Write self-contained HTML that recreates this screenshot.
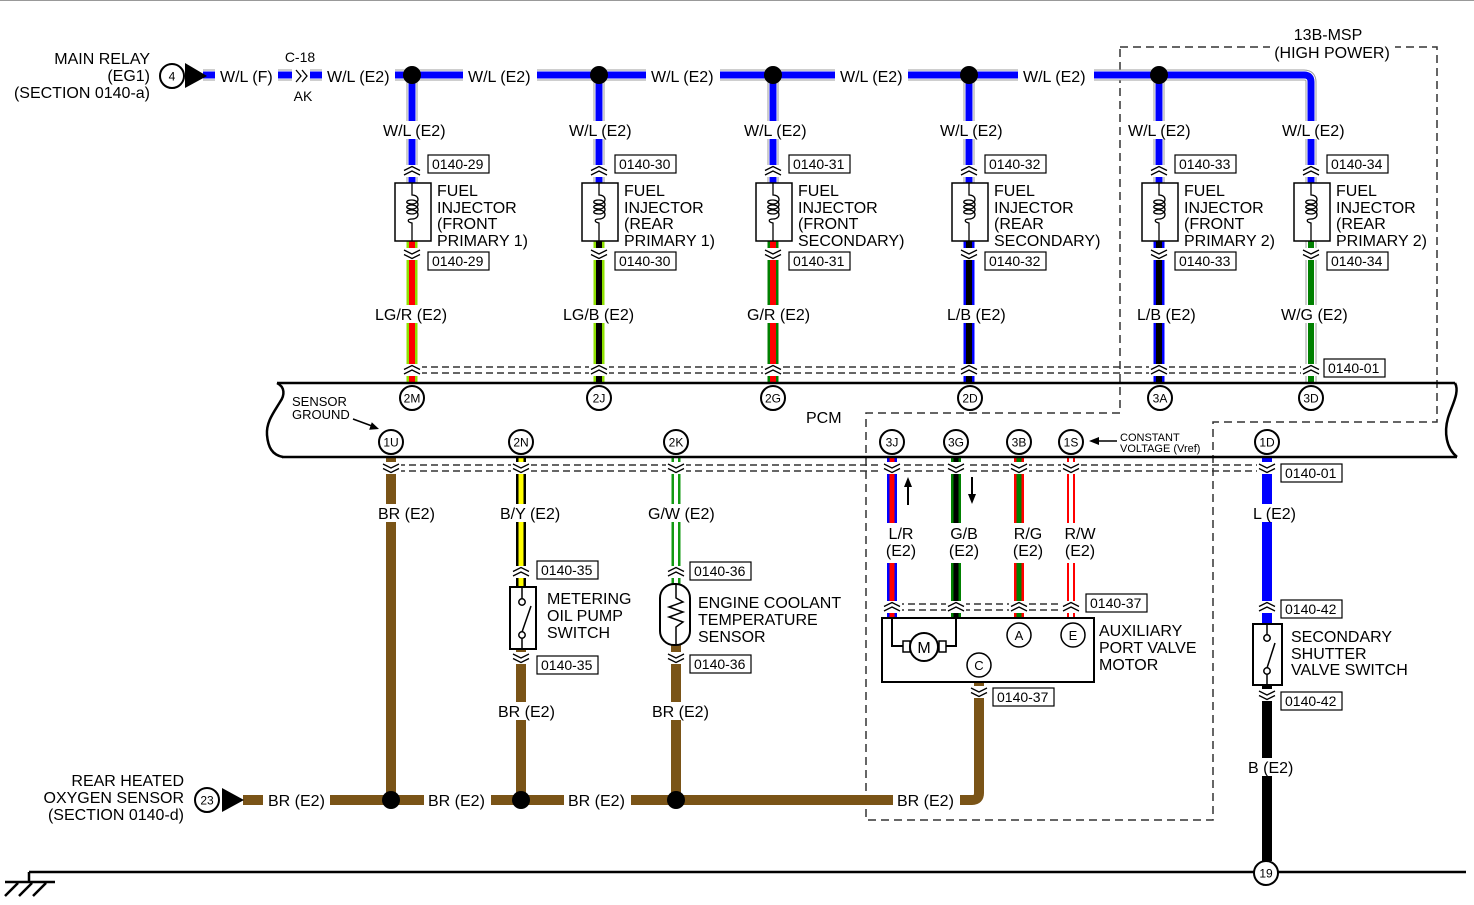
<!DOCTYPE html>
<html><head><meta charset="utf-8">
<style>
html,body{margin:0;padding:0;background:#fff;}
svg{display:block;}
text{font-family:"Liberation Sans",Arial,sans-serif;fill:#000;}
.t{font-size:16px}
.s{font-size:14px}
.p{font-size:12px}
.g{font-size:13px}
.x{font-size:11px}
</style></head><body>
<svg width="1474" height="905" viewBox="0 0 1474 905" xmlns="http://www.w3.org/2000/svg">
<defs>
<g id="cu"><rect x="-10" y="-6" width="20" height="12" fill="#fff"/><path d="M-8 -0.5L0 -4.5L8 -0.5M-8 4L0 0L8 4" fill="none" stroke="#000" stroke-width="1.3"/></g>
<g id="cd"><rect x="-10" y="-6" width="20" height="12" fill="#fff"/><path d="M-8 -4L0 0L8 -4M-8 0.5L0 4.5L8 0.5" fill="none" stroke="#000" stroke-width="1.3"/></g>
<path id="coil" d="M0 0 V12 C8 12 8 21 0 21 C-7 21 -7 17 0 17 C8 17 8 26 0 26 C-7 26 -7 22 0 22 C8 22 8 31 0 31 C-7 31 -7 27 0 27 C8 27 8 36 0 36 C-5 36 -5 39 0 40 V58" fill="none" stroke="#000" stroke-width="1.3"/>
</defs>
<rect width="1474" height="905" fill="#fff"/>
<line x1="0" y1="0.5" x2="1474" y2="0.5" stroke="#999"/>

<!-- region dashed -->
<path d="M1120 47 H1437 V422 H1213 V820 H866 V413 H1120 Z" fill="none" stroke="#333" stroke-width="1.5" stroke-dasharray="8 5"/>

<!-- connector dashed pairs -->
<g stroke="#333" stroke-width="1.5" stroke-dasharray="7 4">
<line x1="420" y1="367" x2="1322" y2="367"/><line x1="420" y1="373" x2="1322" y2="373"/>
<line x1="398" y1="465" x2="1262" y2="465"/><line x1="398" y1="471" x2="1262" y2="471"/>
<line x1="886" y1="604" x2="1080" y2="604"/><line x1="886" y1="610" x2="1080" y2="610"/>
</g>

<!-- W/L wires -->
<g fill="none" stroke-linejoin="round">
<path d="M203 75 H1304 Q1311 75 1311 82 V183 M412 75 V183 M599 75 V183 M773 75 V183 M969 75 V183 M1159 75 V183 M1311 241 V384" stroke="#9c9c9c" stroke-width="11"/>
<path d="M203 75 H1304 Q1311 75 1311 82 V183 M412 75 V183 M599 75 V183 M773 75 V183 M969 75 V183 M1159 75 V183 M1311 241 V384" stroke="#fff" stroke-width="9"/>
<path d="M203 75 H1304 Q1311 75 1311 82 V183 M412 75 V183 M599 75 V183 M773 75 V183 M969 75 V183 M1159 75 V183" stroke="#0000ff" stroke-width="7"/>
<path d="M1311 241 V384" stroke="#008000" stroke-width="6"/>
<!-- injector lower wires -->
<path d="M412 241 V384" stroke="#8ee000" stroke-width="11"/><path d="M412 241 V384" stroke="#ff0000" stroke-width="6"/>
<path d="M599 241 V384" stroke="#8ee000" stroke-width="11"/><path d="M599 241 V384" stroke="#000" stroke-width="6"/>
<path d="M773 241 V384" stroke="#008000" stroke-width="11"/><path d="M773 241 V384" stroke="#ff0000" stroke-width="6"/>
<path d="M969 241 V384" stroke="#0000ff" stroke-width="11"/><path d="M969 241 V384" stroke="#000" stroke-width="6"/>
<path d="M1159 241 V384" stroke="#0000ff" stroke-width="11"/><path d="M1159 241 V384" stroke="#000" stroke-width="6"/>
<!-- lower wires -->
<path d="M391 457 V800 M521 649 V800 M676 645 V800 M243 800 H972 Q979 800 979 793 V682" stroke="#7a5417" stroke-width="10"/>
<path d="M521 457 V587" stroke="#000" stroke-width="10"/><path d="M521 457 V587" stroke="#ffff00" stroke-width="5"/>
<path d="M676 457 V584" stroke="#129a12" stroke-width="9"/><path d="M676 457 V584" stroke="#fff" stroke-width="4"/>
<path d="M892 457 V618" stroke="#0000ff" stroke-width="10"/><path d="M892 457 V618" stroke="#ff0000" stroke-width="5"/>
<path d="M956 457 V618" stroke="#008000" stroke-width="10"/><path d="M956 457 V618" stroke="#000" stroke-width="5"/>
<path d="M1019 457 V618" stroke="#ff0000" stroke-width="10"/><path d="M1019 457 V618" stroke="#008000" stroke-width="5"/>
<path d="M1071 457 V618" stroke="#ff0000" stroke-width="8"/><path d="M1071 457 V618" stroke="#fff" stroke-width="4"/>
<path d="M1267 457 V624" stroke="#0000ff" stroke-width="10"/>
<path d="M1267 685 V861" stroke="#000" stroke-width="10"/>
</g>

<!-- junction dots -->
<g fill="#000">
<circle cx="412" cy="75" r="9"/><circle cx="599" cy="75" r="9"/><circle cx="773" cy="75" r="9"/><circle cx="969" cy="75" r="9"/><circle cx="1159" cy="75" r="9"/>
<circle cx="391" cy="800" r="9"/><circle cx="521" cy="800" r="9"/><circle cx="676" cy="800" r="9"/>
</g>

<!-- top-left source -->
<text class="t" x="150" y="64" text-anchor="end">MAIN RELAY</text>
<text class="t" x="150" y="81" text-anchor="end">(EG1)</text>
<text class="t" x="150" y="98" text-anchor="end">(SECTION 0140-a)</text>
<circle cx="172" cy="76" r="12" fill="#fff" stroke="#000" stroke-width="2"/>
<text class="p" x="172" y="80.5" text-anchor="middle">4</text>
<polygon points="185,63 185,88 207,76" fill="#000"/>

<!-- bus labels -->
<g fill="#fff">
<rect x="215" y="66" width="63" height="19"/>
<rect x="322" y="66" width="73" height="19"/>
<rect x="463" y="66" width="74" height="19"/>
<rect x="646" y="66" width="74" height="19"/>
<rect x="835" y="66" width="73" height="19"/>
<rect x="1018" y="66" width="76" height="19"/>
<rect x="292" y="66" width="18" height="19"/>
</g>
<text class="t" x="220" y="82">W/L (F)</text>
<text class="t" x="327" y="82">W/L (E2)</text>
<text class="t" x="468" y="82">W/L (E2)</text>
<text class="t" x="651" y="82">W/L (E2)</text>
<text class="t" x="840" y="82">W/L (E2)</text>
<text class="t" x="1023" y="82">W/L (E2)</text>
<path d="M296 70 L301 76 L296 82 M302 70 L307 76 L302 82" fill="none" stroke="#000" stroke-width="1.3"/>
<text class="s" x="300" y="62" text-anchor="middle">C-18</text>
<text class="s" x="303" y="101" text-anchor="middle">AK</text>

<!-- 13B-MSP -->
<rect x="1270" y="44" width="125" height="16" fill="#fff"/>
<text class="t" x="1328" y="40" text-anchor="middle">13B-MSP</text>
<text class="t" x="1332" y="58" text-anchor="middle">(HIGH POWER)</text>

<!-- vertical W/L labels -->
<g fill="#fff">
<rect x="380" y="121" width="71" height="18"/>
<rect x="566" y="121" width="71" height="18"/>
<rect x="741" y="121" width="71" height="18"/>
<rect x="937" y="121" width="71" height="18"/>
<rect x="1125" y="121" width="71" height="18"/>
<rect x="1279" y="121" width="71" height="18"/>
</g>
<text class="t" x="383" y="136">W/L (E2)</text>
<text class="t" x="569" y="136">W/L (E2)</text>
<text class="t" x="744" y="136">W/L (E2)</text>
<text class="t" x="940" y="136">W/L (E2)</text>
<text class="t" x="1128" y="136">W/L (E2)</text>
<text class="t" x="1282" y="136">W/L (E2)</text>

<!-- injectors -->
<g fill="#fff" stroke="#000" stroke-width="1.5">
<rect x="395" y="183" width="36" height="58"/>
<rect x="582" y="183" width="36" height="58"/>
<rect x="756" y="183" width="36" height="58"/>
<rect x="952" y="183" width="36" height="58"/>
<rect x="1142" y="183" width="36" height="58"/>
<rect x="1294" y="183" width="36" height="58"/>
</g>
<use href="#coil" x="412" y="183"/>
<use href="#coil" x="599" y="183"/>
<use href="#coil" x="773" y="183"/>
<use href="#coil" x="969" y="183"/>
<use href="#coil" x="1159" y="183"/>
<use href="#coil" x="1311" y="183"/>
<text class="t" x="437" y="196">FUEL</text><text class="t" x="437" y="213">INJECTOR</text><text class="t" x="437" y="229">(FRONT</text><text class="t" x="437" y="246">PRIMARY 1)</text>
<text class="t" x="624" y="196">FUEL</text><text class="t" x="624" y="213">INJECTOR</text><text class="t" x="624" y="229">(REAR</text><text class="t" x="624" y="246">PRIMARY 1)</text>
<text class="t" x="798" y="196">FUEL</text><text class="t" x="798" y="213">INJECTOR</text><text class="t" x="798" y="229">(FRONT</text><text class="t" x="798" y="246">SECONDARY)</text>
<text class="t" x="994" y="196">FUEL</text><text class="t" x="994" y="213">INJECTOR</text><text class="t" x="994" y="229">(REAR</text><text class="t" x="994" y="246">SECONDARY)</text>
<text class="t" x="1184" y="196">FUEL</text><text class="t" x="1184" y="213">INJECTOR</text><text class="t" x="1184" y="229">(FRONT</text><text class="t" x="1184" y="246">PRIMARY 2)</text>
<text class="t" x="1336" y="196">FUEL</text><text class="t" x="1336" y="213">INJECTOR</text><text class="t" x="1336" y="229">(REAR</text><text class="t" x="1336" y="246">PRIMARY 2)</text>

<!-- lower injector wire labels -->
<g fill="#fff">
<rect x="372" y="305" width="78" height="18"/>
<rect x="560" y="305" width="77" height="18"/>
<rect x="744" y="305" width="69" height="18"/>
<rect x="944" y="305" width="65" height="18"/>
<rect x="1134" y="305" width="65" height="18"/>
<rect x="1278" y="305" width="72" height="18"/>
</g>
<text class="t" x="375" y="320">LG/R (E2)</text>
<text class="t" x="563" y="320">LG/B (E2)</text>
<text class="t" x="747" y="320">G/R (E2)</text>
<text class="t" x="947" y="320">L/B (E2)</text>
<text class="t" x="1137" y="320">L/B (E2)</text>
<text class="t" x="1281" y="320">W/G (E2)</text>

<!-- chevrons -->
<use href="#cu" x="412" y="171"/><use href="#cu" x="599" y="171"/><use href="#cu" x="773" y="171"/><use href="#cu" x="969" y="171"/><use href="#cu" x="1159" y="171"/><use href="#cu" x="1311" y="171"/>
<use href="#cd" x="412" y="254"/><use href="#cd" x="599" y="254"/><use href="#cd" x="773" y="254"/><use href="#cd" x="969" y="254"/><use href="#cd" x="1159" y="254"/><use href="#cd" x="1311" y="254"/>
<use href="#cu" x="412" y="370"/><use href="#cu" x="599" y="370"/><use href="#cu" x="773" y="370"/><use href="#cu" x="969" y="370"/><use href="#cu" x="1159" y="370"/><use href="#cu" x="1311" y="370"/>
<use href="#cd" x="391" y="468"/><use href="#cd" x="521" y="468"/><use href="#cd" x="676" y="468"/><use href="#cd" x="892" y="468"/><use href="#cd" x="956" y="468"/><use href="#cd" x="1019" y="468"/><use href="#cd" x="1071" y="468"/><use href="#cd" x="1267" y="468"/>
<use href="#cu" x="521" y="572"/><use href="#cu" x="676" y="572"/>
<use href="#cd" x="521" y="658"/><use href="#cd" x="676" y="658"/>
<use href="#cu" x="892" y="607"/><use href="#cu" x="956" y="607"/><use href="#cu" x="1019" y="607"/><use href="#cu" x="1071" y="607"/>
<use href="#cd" x="979" y="692"/>
<use href="#cu" x="1267" y="607"/>
<use href="#cd" x="1267" y="695"/>

<!-- label boxes -->
<g fill="#fff" stroke="#000" stroke-width="1.2">
<rect x="428" y="155" width="61" height="18"/><rect x="615" y="155" width="61" height="18"/><rect x="789" y="155" width="61" height="18"/><rect x="985" y="155" width="61" height="18"/><rect x="1175" y="155" width="61" height="18"/><rect x="1327" y="155" width="61" height="18"/>
<rect x="428" y="252" width="61" height="18"/><rect x="615" y="252" width="61" height="18"/><rect x="789" y="252" width="61" height="18"/><rect x="985" y="252" width="61" height="18"/><rect x="1175" y="252" width="61" height="18"/><rect x="1327" y="252" width="61" height="18"/>
<rect x="1324" y="359" width="61" height="18"/>
<rect x="537" y="561" width="61" height="18"/><rect x="537" y="656" width="61" height="18"/>
<rect x="690" y="562" width="61" height="18"/><rect x="690" y="655" width="61" height="18"/>
<rect x="1086" y="594" width="61" height="18"/><rect x="993" y="688" width="61" height="18"/>
<rect x="1281" y="464" width="61" height="18"/>
<rect x="1281" y="600" width="61" height="18"/><rect x="1281" y="692" width="61" height="18"/>
</g>
<text class="s" x="432" y="169">0140-29</text><text class="s" x="619" y="169">0140-30</text><text class="s" x="793" y="169">0140-31</text><text class="s" x="989" y="169">0140-32</text><text class="s" x="1179" y="169">0140-33</text><text class="s" x="1331" y="169">0140-34</text>
<text class="s" x="432" y="266">0140-29</text><text class="s" x="619" y="266">0140-30</text><text class="s" x="793" y="266">0140-31</text><text class="s" x="989" y="266">0140-32</text><text class="s" x="1179" y="266">0140-33</text><text class="s" x="1331" y="266">0140-34</text>
<text class="s" x="1328" y="373">0140-01</text>
<text class="s" x="541" y="575">0140-35</text><text class="s" x="541" y="670">0140-35</text>
<text class="s" x="694" y="576">0140-36</text><text class="s" x="694" y="669">0140-36</text>
<text class="s" x="1090" y="608">0140-37</text><text class="s" x="997" y="702">0140-37</text>
<text class="s" x="1285" y="478">0140-01</text>
<text class="s" x="1285" y="614">0140-42</text><text class="s" x="1285" y="706">0140-42</text>

<!-- PCM -->
<g fill="none" stroke="#000" stroke-width="2.5">
<path d="M277 383 H1455"/>
<path d="M282 457 H1457"/>
<path d="M277 383 C285 387 285 395 280 402 C274 412 266 422 267 435 C268 447 272 455 283 457"/>
<path d="M1455 383 C1460 392 1452 405 1448 418 C1444 432 1446 448 1457 457"/>
</g>
<text class="t" x="806" y="423">PCM</text>
<text class="g" x="292" y="406">SENSOR</text>
<text class="g" x="292" y="419">GROUND</text>
<line x1="353" y1="419" x2="372" y2="426" stroke="#000" stroke-width="1.5"/>
<polygon points="379,429 369.2,429.8 371.8,422.2" fill="#000"/>
<text class="x" x="1120" y="441">CONSTANT</text>
<text class="x" x="1120" y="452">VOLTAGE (Vref)</text>
<line x1="1117" y1="441" x2="1097" y2="441" stroke="#000" stroke-width="1.5"/>
<polygon points="1089,441 1099,437 1099,445" fill="#000"/>

<!-- pins -->
<g fill="#fff" stroke="#000" stroke-width="2">
<circle cx="412" cy="398" r="12"/><circle cx="599" cy="398" r="12"/><circle cx="773" cy="398" r="12"/><circle cx="970" cy="398" r="12"/><circle cx="1160" cy="398" r="12"/><circle cx="1311" cy="398" r="12"/>
<circle cx="391" cy="442" r="12"/><circle cx="521" cy="442" r="12"/><circle cx="676" cy="442" r="12"/><circle cx="892" cy="442" r="12"/><circle cx="956" cy="442" r="12"/><circle cx="1019" cy="442" r="12"/><circle cx="1071" cy="442" r="12"/><circle cx="1267" cy="442" r="12"/>
</g>
<g text-anchor="middle">
<text class="p" x="412" y="402.5">2M</text><text class="p" x="599" y="402.5">2J</text><text class="p" x="773" y="402.5">2G</text><text class="p" x="970" y="402.5">2D</text><text class="p" x="1160" y="402.5">3A</text><text class="p" x="1311" y="402.5">3D</text>
<text class="p" x="391" y="446.5">1U</text><text class="p" x="521" y="446.5">2N</text><text class="p" x="676" y="446.5">2K</text><text class="p" x="892" y="446.5">3J</text><text class="p" x="956" y="446.5">3G</text><text class="p" x="1019" y="446.5">3B</text><text class="p" x="1071" y="446.5">1S</text><text class="p" x="1267" y="446.5">1D</text>
</g>

<!-- lower wire labels -->
<g fill="#fff">
<rect x="375" y="504" width="63" height="18"/>
<rect x="497" y="504" width="67" height="18"/>
<rect x="645" y="504" width="73" height="18"/>
<rect x="883" y="523" width="37" height="40"/>
<rect x="946" y="523" width="37" height="40"/>
<rect x="1010" y="523" width="37" height="40"/>
<rect x="1062" y="523" width="37" height="40"/>
<rect x="1250" y="504" width="50" height="18"/>
<rect x="495" y="702" width="63" height="18"/>
<rect x="649" y="702" width="63" height="18"/>
<rect x="1245" y="758" width="52" height="18"/>
<rect x="263" y="790" width="67" height="20"/>
<rect x="424" y="790" width="67" height="20"/>
<rect x="564" y="790" width="67" height="20"/>
<rect x="893" y="790" width="67" height="20"/>
</g>
<text class="t" x="378" y="519">BR (E2)</text>
<text class="t" x="500" y="519">B/Y (E2)</text>
<text class="t" x="648" y="519">G/W (E2)</text>
<g text-anchor="middle">
<text class="t" x="901" y="539">L/R</text><text class="t" x="901" y="556">(E2)</text>
<text class="t" x="964" y="539">G/B</text><text class="t" x="964" y="556">(E2)</text>
<text class="t" x="1028" y="539">R/G</text><text class="t" x="1028" y="556">(E2)</text>
<text class="t" x="1080" y="539">R/W</text><text class="t" x="1080" y="556">(E2)</text>
</g>
<text class="t" x="1253" y="519">L (E2)</text>
<text class="t" x="498" y="717">BR (E2)</text>
<text class="t" x="652" y="717">BR (E2)</text>
<text class="t" x="1248" y="773">B (E2)</text>
<text class="t" x="268" y="806">BR (E2)</text>
<text class="t" x="428" y="806">BR (E2)</text>
<text class="t" x="568" y="806">BR (E2)</text>
<text class="t" x="897" y="806">BR (E2)</text>

<!-- arrows near 3J/3G -->
<line x1="908" y1="505" x2="908" y2="485" stroke="#000" stroke-width="2"/>
<polygon points="908,477 904,487 912,487" fill="#000"/>
<line x1="972" y1="477" x2="972" y2="496" stroke="#000" stroke-width="2"/>
<polygon points="972,504 968,494 976,494" fill="#000"/>

<!-- metering oil pump switch -->
<rect x="510" y="587" width="26" height="62" fill="#fff" stroke="#000" stroke-width="2"/>
<path d="M522 587 V599 M522 638 V649 M522 632 L531 606" fill="none" stroke="#000" stroke-width="1.5"/>
<circle cx="522" cy="602" r="3.2" fill="#fff" stroke="#000" stroke-width="1.5"/>
<circle cx="522" cy="635" r="3.2" fill="#fff" stroke="#000" stroke-width="1.5"/>
<text class="t" x="547" y="604">METERING</text>
<text class="t" x="547" y="621">OIL PUMP</text>
<text class="t" x="547" y="638">SWITCH</text>

<!-- ECT sensor -->
<rect x="660" y="584" width="30" height="61" rx="14" ry="14" fill="#fff" stroke="#000" stroke-width="2"/>
<path d="M676 584 V598 L683 602 L669 607 L683 612 L669 617 L683 622 L676 627 V645" fill="none" stroke="#000" stroke-width="1.5"/>
<text class="t" x="698" y="608">ENGINE COOLANT</text>
<text class="t" x="698" y="625">TEMPERATURE</text>
<text class="t" x="698" y="642">SENSOR</text>

<!-- aux port valve motor -->
<rect x="882" y="618" width="212" height="64" fill="#fff" stroke="#000" stroke-width="2"/>
<path d="M892 618 V646 H903 M956 618 V646 H946" fill="none" stroke="#000" stroke-width="2"/>
<rect x="903" y="641" width="7" height="11" fill="#fff" stroke="#000" stroke-width="1.5"/>
<rect x="939" y="641" width="7" height="11" fill="#fff" stroke="#000" stroke-width="1.5"/>
<circle cx="924" cy="647" r="14" fill="#fff" stroke="#000" stroke-width="2"/>
<text class="t" x="924" y="653" text-anchor="middle">M</text>
<g fill="#fff" stroke="#000" stroke-width="1.5">
<circle cx="1019" cy="635" r="12"/><circle cx="1073" cy="635" r="12"/><circle cx="979" cy="665" r="12"/>
</g>
<g text-anchor="middle">
<text class="g" x="1019" y="640">A</text><text class="g" x="1073" y="640">E</text><text class="g" x="979" y="670">C</text>
</g>
<text class="t" x="1099" y="636">AUXILIARY</text>
<text class="t" x="1099" y="653">PORT VALVE</text>
<text class="t" x="1099" y="670">MOTOR</text>

<!-- secondary shutter valve switch -->
<rect x="1253" y="624" width="29" height="61" fill="#fff" stroke="#000" stroke-width="2"/>
<path d="M1267 624 V635 M1267 674 V685 M1267 668 L1275 643" fill="none" stroke="#000" stroke-width="1.5"/>
<circle cx="1267" cy="638" r="3.2" fill="#fff" stroke="#000" stroke-width="1.5"/>
<circle cx="1267" cy="671" r="3.2" fill="#fff" stroke="#000" stroke-width="1.5"/>
<text class="t" x="1291" y="642">SECONDARY</text>
<text class="t" x="1291" y="659">SHUTTER</text>
<text class="t" x="1291" y="675">VALVE SWITCH</text>

<!-- rear heated oxygen sensor -->
<text class="t" x="184" y="786" text-anchor="end">REAR HEATED</text>
<text class="t" x="184" y="803" text-anchor="end">OXYGEN SENSOR</text>
<text class="t" x="184" y="820" text-anchor="end">(SECTION 0140-d)</text>
<circle cx="207" cy="800" r="12" fill="#fff" stroke="#000" stroke-width="2"/>
<text class="p" x="207" y="804.5" text-anchor="middle">23</text>
<polygon points="222,788 222,812 244,800" fill="#000"/>

<!-- ground -->
<path d="M29 872 H1466 M29 872 V882 M5 882 H55 M18 883 L5 896 M32 883 L19 896 M46 883 L33 896" fill="none" stroke="#000" stroke-width="2.5"/>
<circle cx="1266" cy="873" r="12" fill="#fff" stroke="#000" stroke-width="2"/>
<text class="p" x="1266" y="877.5" text-anchor="middle">19</text>
</svg>
</body></html>
